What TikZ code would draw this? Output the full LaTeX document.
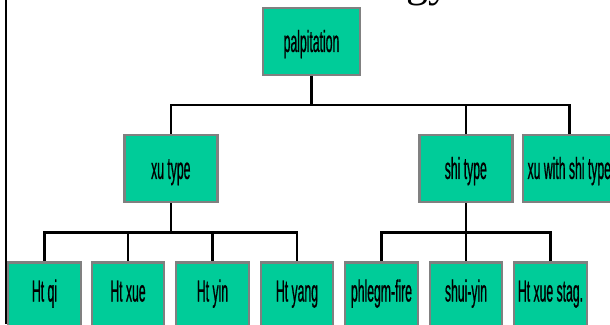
\documentclass[tikz,border=0pt]{standalone}
\usepackage{fontspec}
\usetikzlibrary{backgrounds}
\newfontfamily\narrowfont[FakeStretch=0.40,FakeBold=0.6]{Liberation Sans}
\newfontfamily\titlefont{Liberation Serif}
\definecolor{boxgreen}{RGB}{0,204,153}
\definecolor{boxgray}{RGB}{128,128,128}
\begin{document}
\begin{tikzpicture}[x=1pt,y=-1pt,
  box/.style={draw=boxgray, line width=2.4pt, fill=boxgreen, inner sep=0pt,
    minimum width=93pt, minimum height=66.5pt,
    text height=21.5pt, text depth=0.6pt,
    font=\narrowfont\fontsize{30.5}{30.5}\selectfont},
  leaf/.style={box, minimum width=72.5pt, text height=11.5pt, text depth=0pt},
  conn/.style={line width=2.4pt, black}]
\useasboundingbox (0,0) rectangle (610,324);
\clip (0,0) rectangle (610,324);

% title fragment
\node[font=\titlefont\fontsize{44}{44}\selectfont, anchor=base west, inner sep=0pt] (ttl) at (406,-4) {gy};

% frame line
\coordinate (lt) at (6,0);
\coordinate (lb) at (6,324);
\draw[conn] (lt) -- (lb);

% bars
\coordinate (bar1) at (311.5,105);
\coordinate (bar2) at (170.8,232.5);
\coordinate (bar3) at (466,232.5);

% nodes
\node[box, minimum width=97pt, minimum height=67pt] (pal) at (311.5,41.5) {palpitation};
\node[box] (xu) at (170.8,168.5) {xu type};
\node[box] (shi) at (465.8,168.5) {shi type};
\node[box] (xs) at (569.3,168.5) {xu with shi type};

\node[leaf] (q1) at (44.5,295.75) {Ht qi};
\node[leaf] (q2) at (128,295.75) {Ht xue};
\node[leaf] (q3) at (212.5,295.75) {Ht yin};
\node[leaf] (q4) at (297,295.75) {Ht yang};
\node[leaf] (q5) at (381.5,295.75) {phlegm-fire};
\node[leaf] (q6) at (466,295.75) {shui-yin};
\node[leaf] (q7) at (550.5,295.75) {Ht xue stag.};

% connectors
\begin{scope}[on background layer]
\draw[conn] (pal.south) -- (pal.south |- bar1);
\draw[conn] (xu.north) |- (bar1) -| (xs.north);
\draw[conn] (shi.north) -- (shi.north |- bar1);

\draw[conn] (xu.south) -- (xu.south |- bar2);
\draw[conn] (q1.north) |- (bar2) -| (q4.north);
\draw[conn] (q2.north) -- (q2.north |- bar2);
\draw[conn] (q3.north) -- (q3.north |- bar2);

\draw[conn] (shi.south) -- (shi.south |- bar3);
\draw[conn] (q5.north) |- (bar3) -| (q7.north);
\draw[conn] (q6.north) -- (q6.north |- bar3);
\end{scope}
\end{tikzpicture}
\end{document}
